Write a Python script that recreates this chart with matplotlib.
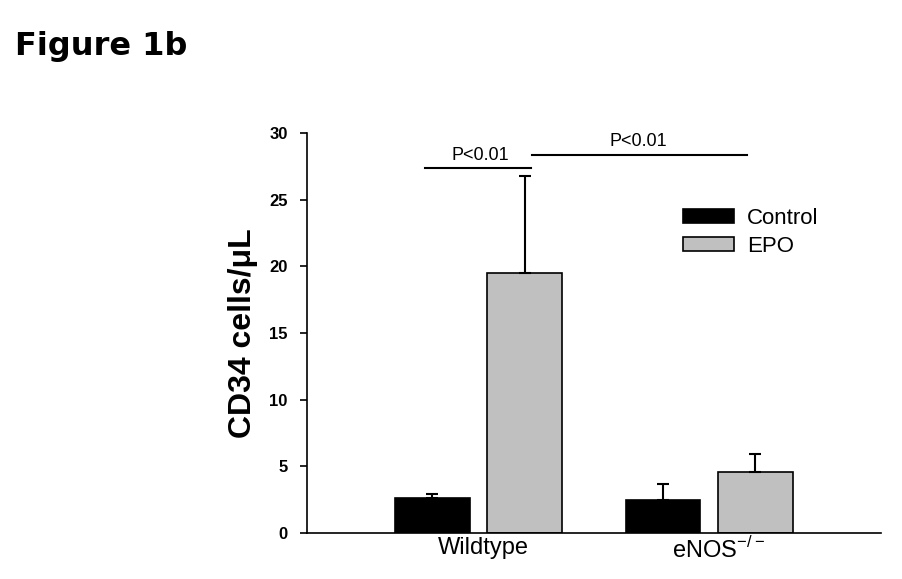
import numpy as np
import matplotlib.pyplot as plt
from matplotlib.patches import Patch

plt.rcParams['font.family'] = ['Liberation Sans', 'DejaVu Sans']
plt.rcParams['mathtext.fontset'] = 'custom'
plt.rcParams['mathtext.rm'] = 'Liberation Sans'

groups = ['Wildtype', r'eNOS$^{\mathrm{-/-}}$']
series = ['Control', 'EPO']
control = [2.65, 2.5]
control_err = [0.3, 1.2]
epo = [19.5, 4.6]
epo_err = [7.3, 1.3]
colors = ['black', '#c0c0c0']

x = np.arange(len(groups))
w = 0.325

fig = plt.figure(figsize=(9.02, 5.79), dpi=100)
ax = fig.add_axes([0.3404, 0.0794, 0.6364, 0.6909])

ax.bar(x - 0.2, control, w, color=colors[0], edgecolor='black', linewidth=1.2)
ax.bar(x + 0.2, epo, w, color=colors[1], edgecolor='black', linewidth=1.2)
ax.errorbar(x - 0.2, control, yerr=[np.zeros(2), control_err], fmt='none',
            ecolor='black', elinewidth=1.5, capsize=4, capthick=1.5)
ax.errorbar(x + 0.2, epo, yerr=[np.zeros(2), epo_err], fmt='none',
            ecolor='black', elinewidth=1.5, capsize=4, capthick=1.5)

ax.set_xlim(-0.744, 1.746)
ax.set_ylim(0, 30)
ax.set_yticks([0, 5, 10, 15, 20, 25, 30])
ax.tick_params(axis='y', direction='out', length=5, width=1.2, labelsize=12, pad=9)
for lab in ax.get_yticklabels():
    lab.set_fontweight('bold')
ax.set_xticks([0.02, 1.04])
ax.set_xticklabels(groups, fontsize=17)
ax.tick_params(axis='x', length=0, pad=3)
ax.spines['top'].set_visible(False)
ax.spines['right'].set_visible(False)
ax.spines['left'].set_linewidth(1.2)
ax.spines['bottom'].set_linewidth(1.2)
ax.set_ylabel('CD34 cells/μL', fontsize=23, fontweight='bold', labelpad=8)

# significance lines
ax.plot([-0.232, 0.226], [27.4, 27.4], color='black', lw=1.5, clip_on=False)
ax.text(0.007, 28.0, 'P<0.01', ha='center', va='baseline', fontsize=13)
ax.plot([0.231, 1.165], [28.35, 28.35], color='black', lw=1.5, clip_on=False)
ax.text(0.692, 29.0, 'P<0.01', ha='center', va='baseline', fontsize=13)

handles = [Patch(facecolor=c, edgecolor='black', linewidth=1.2) for c in colors]
ax.legend(handles, series, loc='upper left', bbox_to_anchor=(0.757, 0.641),
          bbox_transform=fig.transFigure, frameon=False, fontsize=16,
          handlelength=2.3, handleheight=0.6, handletextpad=0.6,
          labelspacing=0.3, borderpad=0, borderaxespad=0)

fig.text(0.017, 0.905, 'Figure 1b', fontsize=23, fontweight='bold',
         family='DejaVu Sans')

fig.savefig('out.png', dpi=100)
